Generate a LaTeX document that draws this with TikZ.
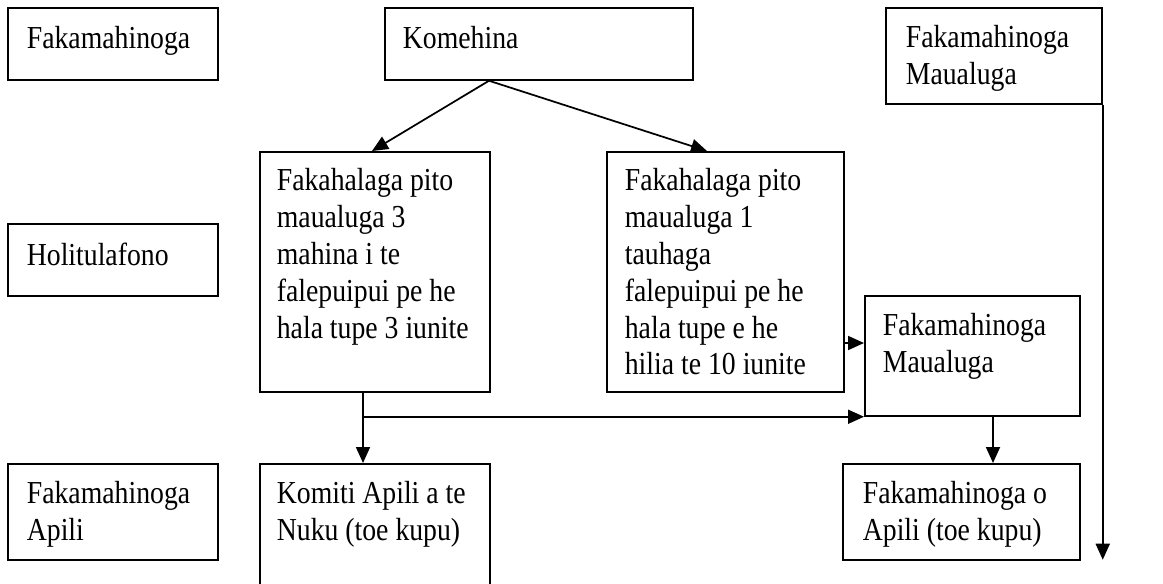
\documentclass[tikz,border=0pt]{standalone}
\usepackage{fontspec}
\setmainfont{Liberation Serif}[FakeStretch=0.867]
\usetikzlibrary{arrows.meta,calc}
\newdimen\px \px=0.75pt
% #1 width, #2 height, #3 first baseline offset, #4 left pad, #5 text
\newcommand\tbox[5]{\parbox[c][#2\px][t]{#1\px}{\leftskip=#4\px\rightskip=-30pt plus 1fil\parindent=0pt\parfillskip=0pt plus 1fil\vspace*{\dimexpr#3\px-\ht\strutbox\relax}\strut #5}}
\tikzset{
  box/.style={draw, line width=1.3pt, inner sep=0pt, anchor=north west,
    font=\fontsize{24}{27.6}\selectfont},
  arr/.style={line width=1.3pt, -{Triangle[length=12pt,width=10.5pt]}}
}
\begin{document}
\begin{tikzpicture}[x=0.75pt,y=-0.75pt]
\clip (0,0) rectangle (1163,583);
\fill[white] (0,0) rectangle (1163,583);
\node[box] (fm)  at (7,7)     {\tbox{210}{72}{41}{19}{Fakamahinoga}};
\node[box] (kom) at (384,7)   {\tbox{308}{72}{41}{18}{Komehina}};
\node[box] (fm2) at (885,7)   {\tbox{216}{96}{40}{20}{Fakamahinoga\\Maualuga}};
\node[box] (hol) at (7,223)   {\tbox{210}{72}{42}{19}{Holitulafono}};
\node[box] (b1)  at (259,151) {\tbox{230}{240}{39}{17}{Fakahalaga pito\\maualuga 3\\mahina i te\\falepuipui pe he\\hala tupe 3 iunite}};
\node[box] (b2)  at (606,151) {\tbox{237}{240}{39}{18}{Fakahalaga pito\\maualuga 1\\tauhaga\\falepuipui pe he\\hala tupe e he\\hilia te 10 iunite}};
\node[box] (mm)  at (864,295) {\tbox{215}{120}{40}{18}{Fakamahinoga\\Maualuga}};
\node[box] (fa)  at (7,463)   {\tbox{210}{96}{40}{19}{Fakamahinoga\\Apili}};
\node[box] (kn)  at (259,463) {\tbox{230}{140}{40}{17}{Komiti Apili a te\\Nuku (toe kupu)}};
\node[box] (foa) at (842,463) {\tbox{237}{96}{40}{20}{Fakamahinoga o\\Apili (toe kupu)}};
% connectors
\coordinate (ka) at ($(kom.south west)+(105,0)$);
\draw[arr] (ka) -- ($(b1.north west)+(113,0)$);
\draw[arr] (ka) -- ($(b2.north west)+(101,0)$);
\coordinate (p1) at ($(b2.north east)+(0,192)$);
\draw[arr] (p1) -- (p1 -| mm.west);
\coordinate (q) at ($(b1.south west)+(104,0)$);
\draw[arr] (q) -- (q |- kn.north);
\draw[arr] (q |- mm.south west) -- (mm.south west);
\coordinate (r) at ($(mm.south west)+(129,0)$);
\draw[arr] (r) -- (r |- foa.north);
\coordinate (e) at ($(fm2.south east)+(0,455)$);
\draw[arr] (fm2.south east) -- (e);
\end{tikzpicture}
\end{document}
